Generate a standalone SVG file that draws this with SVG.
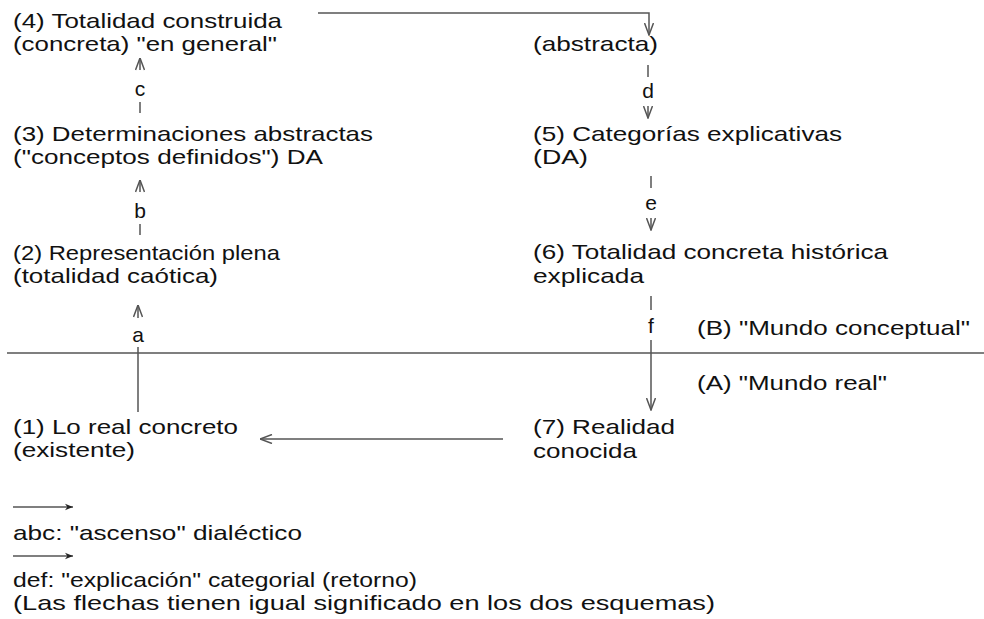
<svg xmlns="http://www.w3.org/2000/svg" width="984" height="619" viewBox="0 0 984 619">
<style>
text{font-family:"Liberation Sans",Arial,sans-serif;font-size:21px;fill:#111}
.ln{stroke:#555;stroke-width:1.5;fill:none}
.ah{stroke:#555;stroke-width:1.5;fill:none}
</style>
<defs>
<marker id="open" viewBox="0 0 12 10" refX="12" refY="5" markerWidth="13" markerHeight="10" markerUnits="userSpaceOnUse" orient="auto">
<path d="M0,0.5 L12,5 L0,9.5" class="ah"/>
</marker>
<marker id="solid" viewBox="0 0 10 10" refX="10" refY="5" markerWidth="12" markerHeight="8" markerUnits="userSpaceOnUse" orient="auto">
<path d="M0,1 L10,5 L0,9 L3,5 z" fill="#222"/>
</marker>
</defs>
<rect width="984" height="619" fill="#fff"/>
<g id="n4"><text x="13" y="28" textLength="269" lengthAdjust="spacingAndGlyphs">(4) Totalidad construida</text><text x="13" y="51" textLength="264" lengthAdjust="spacingAndGlyphs">(concreta) "en general"</text></g>
<g id="n3"><text x="13" y="141" textLength="360" lengthAdjust="spacingAndGlyphs">(3) Determinaciones abstractas</text><text x="13" y="164" textLength="310" lengthAdjust="spacingAndGlyphs">("conceptos definidos") DA</text></g>
<g id="n2"><text x="13" y="260" textLength="267" lengthAdjust="spacingAndGlyphs">(2) Representación plena</text><text x="13" y="283" textLength="205" lengthAdjust="spacingAndGlyphs">(totalidad caótica)</text></g>
<g id="n1"><text x="13" y="434" textLength="225" lengthAdjust="spacingAndGlyphs">(1) Lo real concreto</text><text x="13" y="457" textLength="122" lengthAdjust="spacingAndGlyphs">(existente)</text></g>
<g id="n4b"><text x="533" y="51" textLength="125" lengthAdjust="spacingAndGlyphs">(abstracta)</text></g>
<g id="n5"><text x="533" y="141" textLength="309" lengthAdjust="spacingAndGlyphs">(5) Categorías explicativas</text><text x="533" y="164" textLength="55" lengthAdjust="spacingAndGlyphs">(DA)</text></g>
<g id="n6"><text x="533" y="259" textLength="355" lengthAdjust="spacingAndGlyphs">(6) Totalidad concreta histórica</text><text x="533" y="283" textLength="111" lengthAdjust="spacingAndGlyphs">explicada</text></g>
<g id="n7"><text x="533" y="434" textLength="142" lengthAdjust="spacingAndGlyphs">(7) Realidad</text><text x="533" y="458" textLength="104" lengthAdjust="spacingAndGlyphs">conocida</text></g>
<g id="zoneB"><text x="697" y="335" textLength="273" lengthAdjust="spacingAndGlyphs">(B) "Mundo conceptual"</text></g>
<g id="zoneA"><text x="697" y="390" textLength="190" lengthAdjust="spacingAndGlyphs">(A) "Mundo real"</text></g>
<g id="connectors">
<line class="ln" x1="7" y1="353" x2="984" y2="353"/>
<line class="ln" x1="138" y1="412" x2="138" y2="347"/>
<line class="ln" x1="138" y1="318" x2="138" y2="305" marker-end="url(#open)"/>
<text x="138" y="342" text-anchor="middle">a</text>
<line class="ln" x1="140" y1="235" x2="140" y2="224"/>
<line class="ln" x1="140" y1="192" x2="140" y2="180" marker-end="url(#open)"/>
<text x="140" y="218" text-anchor="middle">b</text>
<line class="ln" x1="140" y1="113" x2="140" y2="102"/>
<line class="ln" x1="140" y1="70" x2="140" y2="58" marker-end="url(#open)"/>
<text x="140" y="96" text-anchor="middle">c</text>
<polyline class="ln" points="318,13 649,13 649,35" marker-end="url(#open)"/>
<line class="ln" x1="648" y1="65" x2="648" y2="77"/>
<line class="ln" x1="648" y1="106" x2="648" y2="118" marker-end="url(#open)"/>
<text x="648" y="98" text-anchor="middle">d</text>
<line class="ln" x1="651" y1="176" x2="651" y2="188"/>
<line class="ln" x1="651" y1="218" x2="651" y2="230" marker-end="url(#open)"/>
<text x="651" y="210" text-anchor="middle">e</text>
<line class="ln" x1="651" y1="296" x2="651" y2="310"/>
<line class="ln" x1="651" y1="340" x2="651" y2="410" marker-end="url(#open)"/>
<text x="651" y="333" text-anchor="middle">f</text>
<line class="ln" x1="503" y1="439" x2="260" y2="439" marker-end="url(#open)"/>
</g>
<g id="legend">
<line class="ln" x1="13" y1="507" x2="73" y2="507" marker-end="url(#solid)"/>
<text x="13" y="540" textLength="289" lengthAdjust="spacingAndGlyphs">abc: "ascenso" dialéctico</text>
<line class="ln" x1="13" y1="556" x2="73" y2="556" marker-end="url(#solid)"/>
<text x="13" y="587" textLength="404" lengthAdjust="spacingAndGlyphs">def: "explicación" categorial (retorno)</text>
<text x="13" y="610" textLength="702" lengthAdjust="spacingAndGlyphs">(Las flechas tienen igual significado en los dos esquemas)</text>
</g>
</svg>
